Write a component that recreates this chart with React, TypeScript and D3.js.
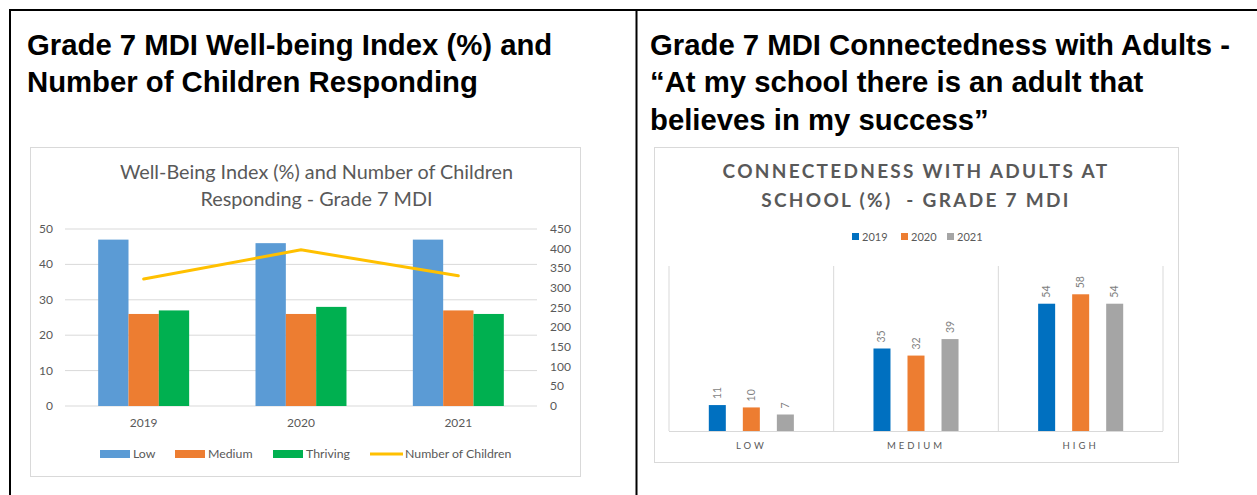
import React from 'react';
import * as d3 from 'd3';

const years = ['2019', '2020', '2021'];
const lowVals = [47, 46, 47];
const mediumVals = [26, 26, 27];
const thrivingVals = [27, 28, 26];
const childrenCount = [323, 397, 331];
const leftTicks = [0, 10, 20, 30, 40, 50];
const rightTicks = [0, 50, 100, 150, 200, 250, 300, 350, 400, 450];

const connCats = ['LOW', 'MEDIUM', 'HIGH'];
const conn2019 = [11, 35, 54];
const conn2020 = [10, 32, 58];
const conn2021 = [7, 39, 54];

const wbSeries = [
  { name: 'Low', values: lowVals, color: '#5B9BD5' },
  { name: 'Medium', values: mediumVals, color: '#ED7D31' },
  { name: 'Thriving', values: thrivingVals, color: '#00B050' },
];
const connSeries = [
  { name: '2019', values: conn2019, color: '#0070C0' },
  { name: '2020', values: conn2020, color: '#ED7D31' },
  { name: '2021', values: conn2021, color: '#A5A5A5' },
];

const GRAY = '#595959';
const GRID = '#d9d9d9';
const XLF = 'Lato, "Open Sans", sans-serif';
const HF = '"Liberation Sans", Arial, sans-serif';

function LeftChart() {
  const x = d3.scaleBand<string>().domain(years).range([65, 537]).padding(0);
  const inner = d3
    .scaleBand<string>()
    .domain(wbSeries.map((s) => s.name))
    .range([0, x.bandwidth()])
    .paddingInner(0)
    .paddingOuter(1.094);
  const yL = d3.scaleLinear().domain([0, 50]).range([406, 229]);
  const yR = d3.scaleLinear().domain([0, 450]).range([406, 229]);
  const line = d3
    .line<number>()
    .x((_, i) => (x(years[i]) as number) + x.bandwidth() / 2)
    .y((d) => yR(d));

  const legend = [
    { label: 'Low', color: '#5B9BD5', x: 100, type: 'rect' },
    { label: 'Medium', color: '#ED7D31', x: 175, type: 'rect' },
    { label: 'Thriving', color: '#00B050', x: 273, type: 'rect' },
    { label: 'Number of Children', color: '#FFC000', x: 370, type: 'line' },
  ];

  return (
    <g>
      <rect x={30.5} y={147.5} width={550} height={329} fill="#fff" stroke={GRID} />
      <text x={316.5} y={179} textAnchor="middle" fill={GRAY} fontFamily={XLF} fontSize={19.8}>
        Well-Being Index (%) and Number of Children
      </text>
      <text x={316.5} y={206} textAnchor="middle" fill={GRAY} fontFamily={XLF} fontSize={19.8}>
        Responding - Grade 7 MDI
      </text>
      {leftTicks.map((t) => (
        <g key={'gl' + t}>
          <line x1={65} x2={537} y1={yL(t)} y2={yL(t)} stroke={GRID} strokeWidth={1} />
          <text x={53} y={yL(t) + 4} textAnchor="end" fill={GRAY} fontFamily={XLF} fontSize={12}>
            {t}
          </text>
        </g>
      ))}
      {rightTicks.map((t) => (
        <text key={'r' + t} x={550} y={yR(t) + 4} textAnchor="start" fill={GRAY} fontFamily={XLF} fontSize={12}>
          {t}
        </text>
      ))}
      {years.map((yr, i) => (
        <g key={yr}>
          {wbSeries.map((s) => (
            <rect
              key={s.name}
              x={(x(yr) as number) + (inner(s.name) as number)}
              y={yL(s.values[i])}
              width={inner.bandwidth()}
              height={yL(0) - yL(s.values[i])}
              fill={s.color}
            />
          ))}
          <text
            x={(x(yr) as number) + x.bandwidth() / 2}
            y={427}
            textAnchor="middle"
            fill={GRAY}
            fontFamily={XLF}
            fontSize={12}
          >
            {yr}
          </text>
        </g>
      ))}
      <path d={line(childrenCount) || ''} fill="none" stroke="#FFC000" strokeWidth={3} strokeLinecap="round" />
      {legend.map((l) =>
        l.type === 'rect' ? (
          <g key={l.label}>
            <rect x={l.x} y={450} width={30} height={8} fill={l.color} />
            <text x={l.x + 33} y={458} fill={GRAY} fontFamily={XLF} fontSize={12.3}>
              {l.label}
            </text>
          </g>
        ) : (
          <g key={l.label}>
            <line x1={l.x} x2={l.x + 33} y1={454} y2={454} stroke={l.color} strokeWidth={3} />
            <text x={l.x + 35} y={458} fill={GRAY} fontFamily={XLF} fontSize={12.3}>
              {l.label}
            </text>
          </g>
        )
      )}
    </g>
  );
}

function RightChart() {
  const x = d3.scaleBand<string>().domain(connCats).range([669, 1163]).padding(0);
  const inner = d3
    .scaleBand<string>()
    .domain(connSeries.map((s) => s.name))
    .range([0, x.bandwidth()])
    .paddingInner(0.5)
    .paddingOuter(1.17);
  const y = d3.scaleLinear().domain([0, 70]).range([431, 266]);
  const legendX = [852, 901, 947];

  return (
    <g>
      <rect x={654.5} y={147.5} width={524} height={315} fill="#fff" stroke={GRID} />
      <text
        x={916}
        y={178}
        textAnchor="middle"
        fill={GRAY}
        fontFamily={XLF}
        fontWeight="bold"
        fontSize={19}
        letterSpacing={2.3}
      >
        CONNECTEDNESS WITH ADULTS AT
      </text>
      <text
        x={916}
        y={207}
        textAnchor="middle"
        fill={GRAY}
        fontFamily={XLF}
        fontWeight="bold"
        fontSize={19}
        letterSpacing={2.3}
        style={{ whiteSpace: 'pre' }}
      >
        {'SCHOOL (%)  - GRADE 7 MDI'}
      </text>
      {connSeries.map((s, i) => (
        <g key={s.name}>
          <rect x={legendX[i]} y={233} width={7} height={7} fill={s.color} />
          <text x={legendX[i] + 10} y={241} fill={GRAY} fontFamily={XLF} fontSize={11}>
            {s.name}
          </text>
        </g>
      ))}
      {[0, 1, 2, 3].map((k) => {
        const xx = 669 + k * x.step();
        return <line key={'v' + k} x1={xx} x2={xx} y1={266} y2={431} stroke={GRID} strokeWidth={1} />;
      })}
      <line x1={669} x2={1163} y1={431.5} y2={431.5} stroke={GRID} strokeWidth={1} />
      {connCats.map((c, i) => (
        <g key={c}>
          {connSeries.map((s) => {
            const bx = (x(c) as number) + (inner(s.name) as number);
            const cx = bx + inner.bandwidth() / 2;
            const top = y(s.values[i]);
            return (
              <g key={s.name}>
                <rect x={bx} y={top} width={inner.bandwidth()} height={y(0) - top} fill={s.color} />
                <text
                  transform={`translate(${cx + 3.5},${top - 6}) rotate(-90)`}
                  textAnchor="start"
                  fill="#7f7f7f"
                  fontFamily={XLF}
                  fontSize={10.5}
                >
                  {s.values[i]}
                </text>
              </g>
            );
          })}
          <text
            x={(x(c) as number) + x.bandwidth() / 2}
            y={449}
            textAnchor="middle"
            fill={GRAY}
            fontFamily={XLF}
            fontSize={9.5}
            letterSpacing={3}
          >
            {c}
          </text>
        </g>
      ))}
    </g>
  );
}

export default function App() {
  return (
    <svg
      width={1257}
      height={495}
      style={{ position: 'absolute', left: 0, top: 0, background: '#fff' }}
    >
      <rect x={0} y={0} width={1257} height={495} fill="#fff" />
      <line x1={9} x2={1257} y1={10} y2={10} stroke="#000" strokeWidth={2} />
      <line x1={10} x2={10} y1={9} y2={495} stroke="#000" strokeWidth={2} />
      <line x1={636.5} x2={636.5} y1={9} y2={495} stroke="#000" strokeWidth={2} />
      <g fontFamily={HF} fontWeight="bold" fontSize={29.3} fill="#000">
        <text x={27} y={55}>Grade 7 MDI Well-being Index (%) and</text>
        <text x={27} y={92}>Number of Children Responding</text>
        <text x={650} y={55}>Grade 7 MDI Connectedness with Adults -</text>
        <text x={650} y={92}>“At my school there is an adult that</text>
        <text x={650} y={130}>believes in my success”</text>
      </g>
      <LeftChart />
      <RightChart />
    </svg>
  );
}
